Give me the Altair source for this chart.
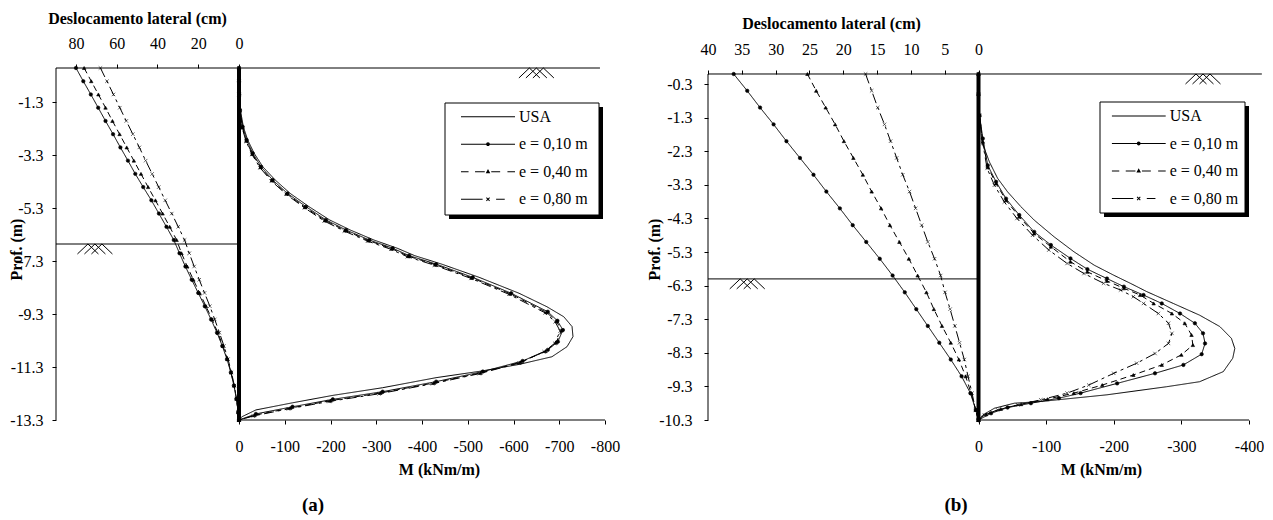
import altair as alt
import pandas as pd

FONT = "Liberation Serif"
SERIES = ["USA", "e = 0,10 m", "e = 0,40 m", "e = 0,80 m"]
E_SERIES = SERIES[1:]

# ---------------- panel (a) : lateral displacement (cm) ----------------
a_disp_z = [0, -0.5, -1.0, -1.5, -2.0, -2.5, -3.0, -3.5, -4.0, -4.5, -5.0, -5.5, -6.0, -6.5,
            -7.0, -7.5, -8.0, -8.5, -9.0, -9.5, -10.0, -10.5, -11.0, -11.5, -12.0, -12.5, -13.0, -13.3]
a_disp_e10 = [80.0, 76.4, 72.7, 69.1, 65.5, 61.8, 58.2, 54.5, 50.9, 47.0, 43.0, 39.3, 35.6, 32.0,
              29.2, 26.3, 23.2, 20.0, 16.8, 13.7, 10.8, 8.2, 5.9, 4.0, 2.5, 1.3, 0.4, 0.0]
a_disp_e40 = [76.0, 72.5, 69.0, 65.5, 62.1, 58.6, 55.1, 51.6, 48.1, 44.6, 41.0, 37.5, 34.0, 30.6,
              28.2, 25.4, 22.4, 19.3, 16.2, 13.2, 10.4, 7.9, 5.7, 3.9, 2.4, 1.2, 0.4, 0.0]
a_disp_e80 = [68.0, 64.8, 61.6, 58.5, 55.3, 52.1, 48.9, 45.8, 42.6, 39.4, 36.2, 33.0, 29.8, 26.7,
              24.4, 22.0, 19.5, 16.9, 14.3, 11.9, 9.6, 7.4, 5.4, 3.7, 2.3, 1.2, 0.4, 0.0]

# ---------------- panel (a) : bending moment (kNm/m) ----------------
a_mom_usa_z = [0, -1.0, -1.3, -1.59, -2.22, -2.72, -3.22, -3.73, -4.23, -4.74, -5.24, -5.74, -6.12, -6.50,
               -6.81, -7.09, -7.41, -7.91, -8.51, -9.02, -9.40, -9.77, -10.15, -10.53, -10.91, -11.20,
               -11.45, -11.70, -12.08, -12.37, -12.65, -12.92, -13.18, -13.3]
a_mom_usa = [0, 0, -1, -3, -9.5, -19, -33, -52, -79, -112, -153, -198, -243, -295,
             -346, -384, -443, -525, -612, -673, -710, -728, -730, -717, -684, -612,
             -530, -431, -314, -205, -117, -37, -6, 0]
a_mom_e10_z = [0, -0.5, -1.0, -1.59, -2.22, -2.72, -3.22, -3.73, -4.23, -4.74, -5.24, -5.74, -6.12, -6.50,
               -6.81, -7.09, -7.41, -7.91, -8.51, -9.21, -9.55, -9.90, -10.34, -10.65, -11.07, -11.47,
               -11.85, -12.23, -12.52, -12.80, -13.07, -13.3]
a_mom_e10 = [0, 0, -0.5, -2.2, -8, -16.8, -29.9, -48.1, -73.6, -106, -146.5, -190, -234, -285,
             -336, -372, -431, -511, -595, -675, -696, -708, -697, -675, -620, -533,
             -431, -314, -205, -117, -37, 0]
a_mom_e40_z = [0, -0.5, -1.0, -1.6, -2.25, -2.75, -3.25, -3.75, -4.25, -4.75, -5.26, -5.76, -6.14, -6.52,
               -6.83, -7.11, -7.43, -7.93, -8.53, -9.23, -9.57, -9.92, -10.38, -10.70, -11.12, -11.52,
               -11.90, -12.28, -12.57, -12.85, -13.12, -13.3]
a_mom_e40 = [0, 0, -0.4, -2.0, -7.5, -16, -29, -47, -72, -104, -144, -188, -232, -283,
             -334, -370, -429, -509, -593, -672, -694, -705, -693, -670, -615, -528,
             -426, -309, -200, -112, -34, 0]
a_mom_e80_z = [0, -0.5, -1.0, -1.62, -2.27, -2.77, -3.27, -3.77, -4.27, -4.77, -5.28, -5.78, -6.16, -6.54,
               -6.85, -7.13, -7.45, -7.95, -8.55, -9.25, -9.59, -9.94, -10.40, -10.72, -11.15, -11.55,
               -11.93, -12.31, -12.60, -12.88, -13.15, -13.3]
a_mom_e80 = [0, 0, -0.3, -1.8, -7, -15.5, -28.5, -46, -71, -103, -143, -186, -230, -281,
             -332, -368, -427, -507, -590, -669, -691, -702, -690, -667, -612, -525,
             -423, -306, -197, -108, -31, 0]

# ---------------- panel (b) : lateral displacement (cm) ----------------
b_disp_z = [0, -0.5, -1.0, -1.5, -2.0, -2.5, -3.0, -3.5, -4.0, -4.5, -5.0, -5.5, -6.0, -6.5,
            -7.0, -7.5, -8.0, -8.5, -9.0, -9.5, -10.0, -10.3]
b_disp_e10 = [36.2, 34.2, 32.3, 30.3, 28.4, 26.4, 24.4, 22.5, 20.5, 18.6, 16.6, 14.6, 12.7, 10.9,
              9.2, 7.5, 5.8, 4.1, 2.5, 1.2, 0.4, 0.0]
b_disp_e40 = [25.3, 24.0, 22.6, 21.2, 19.9, 18.5, 17.1, 15.8, 14.4, 13.1, 11.7, 10.3, 9.0, 7.7,
              6.6, 5.4, 4.1, 2.9, 1.9, 1.1, 0.4, 0.0]
b_disp_e80 = [16.7, 15.8, 14.9, 13.9, 13.0, 12.1, 11.2, 10.2, 9.3, 8.4, 7.5, 6.5, 5.6, 4.95,
              4.2, 3.5, 2.8, 2.1, 1.55, 0.95, 0.45, 0.0]

# ---------------- panel (b) : bending moment (kNm/m) ----------------
b_mom_usa_z = [0, -1.23, -2.02, -2.62, -3.11, -3.51, -3.95, -4.35, -4.85, -5.29, -5.69, -5.99, -6.23, -6.48,
               -6.83, -7.18, -7.52, -7.87, -8.17, -8.46, -8.86, -9.16, -9.31, -9.55, -9.65, -9.75,
               -9.80, -9.95, -10.15, -10.3]
b_mom_usa = [0, -1.5, -4.9, -16.2, -28.4, -43.1, -62.7, -82.4, -112, -141, -171, -200, -224.5, -249,
             -288, -327, -357, -374, -379, -376, -362, -327, -278, -190, -141, -92,
             -53, -23.5, -6.4, 0]
b_mom_e10_z = [0, -0.6, -1.23, -1.92, -2.72, -3.21, -3.71, -4.20, -4.70, -5.09, -5.49, -5.81, -6.09, -6.33,
               -6.58, -6.83, -7.13, -7.42, -7.72, -8.02, -8.34, -8.66, -8.91, -9.21, -9.50, -9.65,
               -9.80, -9.93, -10.10, -10.3]
b_mom_e10 = [0, 0, -1.5, -6.4, -13.7, -26, -40.7, -60.3, -82.4, -107, -136, -161, -190, -215,
             -244, -271, -298, -320, -332, -335, -330, -303, -261, -205, -151, -119,
             -77.5, -43, -18.6, 0]
b_mom_e40_z = [0, -0.6, -1.23, -2.02, -2.77, -3.26, -3.76, -4.25, -4.75, -5.14, -5.59, -5.89, -6.16, -6.38,
               -6.58, -6.83, -7.13, -7.42, -7.77, -8.07, -8.36, -8.66, -8.96, -9.26, -9.50, -9.68,
               -9.83, -9.97, -10.13, -10.3]
b_mom_e40 = [0, 0, -1.5, -6.4, -13.7, -26, -40.7, -60.3, -82.4, -107, -136, -161, -190, -215,
             -239, -259, -286, -305, -315, -317, -300, -271, -229, -183, -141, -102,
             -63, -33, -11.3, 0]
b_mom_e80_z = [0, -0.6, -1.23, -2.07, -2.81, -3.31, -3.81, -4.30, -4.80, -5.24, -5.64, -5.94, -6.23, -6.43,
               -6.63, -6.83, -7.13, -7.42, -7.72, -8.02, -8.32, -8.61, -8.91, -9.26, -9.50, -9.70,
               -9.85, -10.00, -10.15, -10.3]
b_mom_e80 = [0, 0, -1.5, -6.4, -12.7, -23.5, -38.2, -56.9, -80, -104, -131, -156, -185, -210,
             -229, -244, -266, -281, -286, -281, -261, -234, -200, -163, -131, -92,
             -58, -28.4, -8.8, 0]

# ---------------- axis ticks ----------------
a_yticks = [-1.3, -3.3, -5.3, -7.3, -9.3, -11.3, -13.3]
a_dticks = [80, 60, 40, 20, 0]
a_mticks = [0, -100, -200, -300, -400, -500, -600, -700, -800]
b_yticks = [-0.3, -1.3, -2.3, -3.3, -4.3, -5.3, -6.3, -7.3, -8.3, -9.3, -10.3]
b_dticks = [40, 35, 30, 25, 20, 15, 10, 5, 0]
b_mticks = [0, -100, -200, -300, -400]

# ---------------- styles ----------------
DASHES = [[1, 0], [1, 0], [6, 4], [10, 4, 3, 4]]
XPATH = "M-1,-1L1,1M-1,1L1,-1"
MARKERS = ["circle", "triangle-up", XPATH]
SYM = "M-1,0.57L-0.4,0L0.2,0.57M-0.6,0.57L0,0L0.6,0.57M-0.2,0.57L0.4,0L1,0.57"

T = 0.019


def seg(a, b):
    return f"M{a},{-T}L{b},{-T}L{b},{T}L{a},{T}Z"


CIRCLE = "M0.07,0A0.07,0.07 0 1 1 -0.07,0A0.07,0.07 0 1 1 0.07,0Z"
TRI = "M0,-0.1L0.085,0.06L-0.085,0.06Z"
XGLYPH = ("M-0.073,-0.047L0.047,0.073L0.073,0.047L-0.047,-0.073Z"
          "M-0.073,0.047L-0.047,0.073L0.073,-0.047L0.047,-0.073Z")
LEG_PATHS = [
    seg(-1, 1),
    seg(-1, 1) + CIRCLE,
    seg(-1, -0.72) + seg(-0.48, -0.12) + seg(0.12, 0.45) + seg(0.72, 1) + TRI,
    seg(-1, -0.2) + seg(0.3, 0.62) + XGLYPH,
]


def frame(parts):
    rows = []
    for name, zs, vs in parts:
        for i, (zz, vv) in enumerate(zip(zs, vs)):
            rows.append({"series": name, "z": zz, "v": vv, "i": i})
    return pd.DataFrame(rows)


ONE = pd.DataFrame({"k": [0]})
LEG_DF = pd.DataFrame({"series": SERIES})
LBL = "'' + datum.value"


def make_panel(P, disp_df, mom_df, tag):
    W, H = P["w"], P["h"]
    yscale = alt.Scale(domain=[P["zmin"], P["ztop"]], nice=False, zero=False)
    # two overlapping left axes (alternate ticks each) so every depth label is kept
    yenc_d = alt.Y("z:Q", scale=yscale,
                   axis=alt.Axis(values=P["yticks"][0::2], labelExpr=LBL, title="Prof. (m)",
                                 orient="left", labelOverlap=False, labelFlush=False,
                                 domain=False, tickSize=4, labelPadding=P["ylabpad"],
                                 titleX=P["ytx"], titleY=P["yty"],
                                 titleAngle=270, titleBaseline="middle", titleAlign="center"))
    yenc_m = alt.Y("z:Q", scale=yscale,
                   axis=alt.Axis(values=P["yticks"][1::2], labelExpr=LBL, title=None,
                                 orient="left", labelOverlap=False, labelFlush=False,
                                 domain=False, tickSize=4, labelPadding=P["ylabpad"]))
    dash = alt.StrokeDash("series:N", scale=alt.Scale(domain=SERIES, range=DASHES), legend=None)
    shp = alt.Shape("series:N", scale=alt.Scale(domain=E_SERIES, range=MARKERS), legend=None)

    xd = alt.X("v:Q", scale=alt.Scale(domain=P["ddom"], reverse=True, nice=False, zero=False),
               axis=alt.Axis(orient="top", values=P["dticks"], labelExpr=LBL, domain=False,
                             labelOverlap=False, labelFlush=False,
                             offset=P["toff"], tickSize=4, labelPadding=P["dlabpad"],
                             title="Deslocamento lateral (cm)",
                             titleX=P["dtx"], titleY=P["dty"], titleBaseline="middle", titleAlign="center"))
    d_line = alt.Chart(disp_df).mark_line(color="black", strokeWidth=1).encode(
        x=xd, y=yenc_d, strokeDash=dash, detail="series:N", order="i:Q")
    d_pts = alt.Chart(disp_df).mark_point(filled=True, size=12, fill="black", stroke="black",
                                          strokeWidth=0.6, opacity=1).encode(x=xd, y=yenc_d, shape=shp)
    y_line = alt.Chart(ONE).mark_rule(color="black", strokeWidth=1).encode(
        x=alt.datum(P["ddom"][1]), y=alt.datum(0), y2=alt.datum(P["zmin"]))
    wt_rule = alt.Chart(ONE).mark_rule(color="black", strokeWidth=1).encode(
        x=alt.datum(P["ddom"][1]), x2=alt.datum(0), y=alt.datum(P["wt"]))
    wt_sym = alt.Chart(ONE).mark_point(shape=SYM, size=1225, filled=False, stroke="black",
                                       strokeWidth=1, opacity=1).encode(
        x=alt.datum(P["wsym"]), y=alt.datum(P["wt"]))
    disp_layer = alt.layer(d_line, d_pts, y_line, wt_rule, wt_sym)

    xm = alt.X("v:Q", scale=alt.Scale(domain=P["mdom"], reverse=True, nice=False, zero=False),
               axis=alt.Axis(orient="bottom", values=P["mticks"], labelExpr=LBL, domain=False,
                             labelOverlap=False, labelFlush=False,
                             tickSize=4, labelPadding=P["mlabpad"], title="M (kNm/m)",
                             titleX=P["mtx"], titleY=P["mty"], titleBaseline="middle", titleAlign="center"))
    m_line = alt.Chart(mom_df).mark_line(color="black", strokeWidth=1).encode(
        x=xm, y=yenc_m, strokeDash=dash, detail="series:N", order="i:Q")
    m_pts = alt.Chart(mom_df).transform_filter("datum.series != 'USA'").mark_point(
        filled=True, size=12, fill="black", stroke="black", strokeWidth=0.6, opacity=1).encode(
        x=xm, y=yenc_m, shape=shp)
    pile = alt.Chart(ONE).mark_rule(color="black", strokeWidth=4).encode(
        x=alt.datum(0), y=alt.datum(0), y2=alt.datum(P["zmin"]))
    m_axis = alt.Chart(ONE).mark_rule(color="black", strokeWidth=1).encode(
        x=alt.datum(0), x2=alt.datum(P["mend"]), y=alt.datum(P["zmin"]))
    ground = alt.Chart(ONE).mark_rule(color="black", strokeWidth=1).encode(
        x=alt.datum(P["mdom"][1]), x2=alt.datum(P["gend"]), y=alt.datum(0))
    gsym = alt.Chart(ONE).mark_point(shape=SYM, size=1225, filled=False, stroke="black",
                                     strokeWidth=1, opacity=1).encode(
        x=alt.datum(P["gsym"]), y=alt.datum(0))
    bx0, bx1, by0, by1 = P["box"]
    shadow = alt.Chart(ONE).mark_rect(fill="black").encode(
        x=alt.value(bx0 + 4), x2=alt.value(bx1 + 4), y=alt.value(by0 + 4), y2=alt.value(by1 + 4))
    box = alt.Chart(ONE).mark_rect(fill="white", stroke="black", strokeWidth=1).encode(
        x=alt.value(bx0), x2=alt.value(bx1), y=alt.value(by0), y2=alt.value(by1))
    tag_mark = alt.Chart(pd.DataFrame({"t": [tag]})).mark_text(
        font=FONT, fontSize=19, fontWeight="bold", color="black").encode(
        text="t:N", x=alt.value(P["tag"][0]), y=alt.value(P["tag"][1]))
    mom_layer = alt.layer(shadow, box, m_line, m_pts, m_axis, ground, gsym, pile, tag_mark)

    leg = alt.Chart(LEG_DF).transform_filter("false").mark_point(
        filled=True, color="black", size=2916, opacity=1).encode(
        shape=alt.Shape("series:N", scale=alt.Scale(domain=SERIES, range=LEG_PATHS),
                        legend=alt.Legend(title=None, orient="none", legendX=P["legx"], legendY=P["legy"],
                                          padding=0, clipHeight=16, rowPadding=11.5, labelOffset=4,
                                          symbolSize=2916, labelFont=FONT, labelFontSize=16,
                                          labelColor="black", symbolOpacity=1,
                                          symbolFillColor="black", symbolStrokeWidth=0)))

    return alt.layer(disp_layer, mom_layer, leg).resolve_scale(
        x="independent", y="independent", shape="independent").properties(width=W, height=H)


disp_a = frame([(SERIES[1], a_disp_z, a_disp_e10), (SERIES[2], a_disp_z, a_disp_e40),
                (SERIES[3], a_disp_z, a_disp_e80)])
mom_a = frame([(SERIES[0], a_mom_usa_z, a_mom_usa), (SERIES[1], a_mom_e10_z, a_mom_e10),
               (SERIES[2], a_mom_e40_z, a_mom_e40), (SERIES[3], a_mom_e80_z, a_mom_e80)])
disp_b = frame([(SERIES[1], b_disp_z, b_disp_e10), (SERIES[2], b_disp_z, b_disp_e40),
                (SERIES[3], b_disp_z, b_disp_e80)])
mom_b = frame([(SERIES[0], b_mom_usa_z, b_mom_usa), (SERIES[1], b_mom_e10_z, b_mom_e10),
               (SERIES[2], b_mom_e40_z, b_mom_e40), (SERIES[3], b_mom_e80_z, b_mom_e80)])

PA = dict(w=549, h=352, zmin=-13.3, ztop=0, yticks=a_yticks, ylabpad=9, ytx=-40, yty=181,
          ddom=[-179.6, 89.8], dticks=a_dticks, toff=0, dlabpad=13, dtx=81, dty=-50,
          mdom=[-800, 400], mticks=a_mticks, mlabpad=14, mtx=383, mty=49,
          wt=-6.65, wsym=70.7, mend=-800, gend=-789, gsym=-650,
          box=(389, 543, 35, 147), legx=405, legy=40.7, tag=(257, 437))
PB = dict(w=541, h=352, zmin=-10.3, ztop=0.1786, yticks=b_yticks, ylabpad=12, ytx=-54, yty=181,
          ddom=[-40, 40], dticks=b_dticks, toff=-6, dlabpad=13, dtx=123, dty=-51,
          mdom=[-400, 400], mticks=b_mticks, mlabpad=14, mtx=393, mty=49,
          wt=-6.1, wsym=34.2, mend=-400, gend=-419, gsym=-332,
          box=(392, 537, 34, 145), legx=403.7, legy=40, tag=(248, 437))

pa = make_panel(PA, disp_a, mom_a, "(a)")
pb = make_panel(PB, disp_b, mom_b, "(b)")

chart = alt.hconcat(pa, pb, spacing=26).properties(
    padding={"left": 0, "top": 2, "right": 0, "bottom": 0}
).configure_view(stroke=None).configure_axis(
    grid=False, labelFont=FONT, labelFontSize=16, labelColor="black", labelOverlap=False,
    labelFlush=False,
    titleFont=FONT, titleFontSize=16, titleFontWeight="bold", titleColor="black",
    domainColor="black", tickColor="black", domainWidth=1, tickWidth=1
).configure_legend(labelFont=FONT)

chart.save("out.html", embed_options={"renderer": "svg", "actions": False})
